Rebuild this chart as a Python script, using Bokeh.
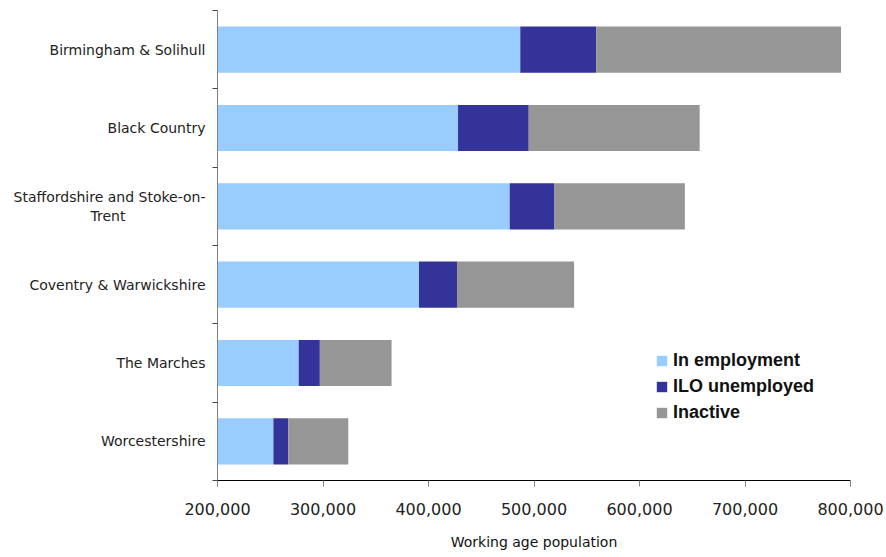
from bokeh.plotting import figure
from bokeh.models import (ColumnDataSource, Range1d, FixedTicker,
                          NumeralTickFormatter)
from bokeh.embed import file_html
from bokeh.resources import INLINE

# Working age population by LEP area (top to bottom as listed)
areas = [
    "Birmingham & Solihull",
    "Black Country",
    "Staffordshire and Stoke-on-\nTrent",
    "Coventry & Warwickshire",
    "The Marches",
    "Worcestershire",
]
in_employment = [487000, 428000, 477000, 391000, 277000, 253000]
ilo_unemployed = [72000, 67000, 42000, 36000, 20000, 14000]
inactive = [232000, 162000, 124000, 111000, 68000, 57000]

series = ["In employment", "ILO unemployed", "Inactive"]
colors = ["#99CCFF", "#333399", "#969696"]
x_ticks = [200000, 300000, 400000, 500000, 600000, 700000, 800000]

n = len(areas)
# first area sits at the top of the axis
ypos = [n - i - 0.5 for i in range(n)]


def centred_lines(label, char_w=0.34):
    """Pad the shorter lines of a right-aligned multi-line label with
    no-break spaces so that every line sits centred under the longest."""
    lines = label.split("\n")
    if len(lines) == 1:
        return label
    widths = {c: 0.62 for c in "abcdeghknopqsuvxyz"}
    widths.update({c: 0.28 for c in "fijlrt"})

    def w(s):
        return sum(widths.get(c, 0.68) for c in s)

    longest = max(w(s) for s in lines)
    out = []
    for s in lines:
        pad = int(round((longest - w(s)) / 2 / char_w))
        out.append(s + "\u00a0" * pad)
    return "\n".join(out)


src = ColumnDataSource(dict(
    y=ypos,
    emp=in_employment,
    unemp=ilo_unemployed,
    inact=inactive,
))

p = figure(
    width=886, height=557,
    x_range=Range1d(x_ticks[0], x_ticks[-1]),
    y_range=Range1d(0, n),
    output_backend="svg", toolbar_location=None,
    min_border_left=217, min_border_right=36,
    min_border_top=10, min_border_bottom=77,
)
p.outline_line_color = None
p.background_fill_color = "white"
p.border_fill_color = "white"
p.xgrid.visible = False
p.ygrid.visible = False

p.hbar_stack(["emp", "unemp", "inact"], y="y", height=0.59,
             color=colors, line_color=None, source=src,
             legend_label=series)

# x axis
xa = p.xaxis[0]
xa.ticker = FixedTicker(ticks=x_ticks)
xa.formatter = NumeralTickFormatter(format="0,0")
xa.axis_line_color = "black"
xa.major_tick_line_color = "#808080"
xa.major_tick_out = 6
xa.major_tick_in = 0
xa.minor_tick_line_color = None
xa.major_label_text_font = "DejaVu Sans"
xa.major_label_text_font_size = "16px"
xa.major_label_text_color = "#222222"
xa.major_label_standoff = 16
xa.axis_label = "Working age population"
xa.axis_label_text_font = "DejaVu Sans"
xa.axis_label_text_font_size = "14px"
xa.axis_label_text_font_style = "normal"
xa.axis_label_text_color = "#111111"
xa.axis_label_standoff = 16

# y axis: labels at bar centres, tick marks on category boundaries
ya = p.yaxis[0]
ya.ticker = FixedTicker(ticks=ypos, minor_ticks=list(range(n + 1)))
ya.major_label_overrides = {y: centred_lines(a) for y, a in zip(ypos, areas)}
ya.axis_line_color = "#808080"
ya.major_tick_line_color = None
ya.major_tick_out = 0
ya.major_tick_in = 0
ya.minor_tick_line_color = "#444444"
ya.minor_tick_out = 5
ya.minor_tick_in = 0
ya.major_label_text_font = "DejaVu Sans"
ya.major_label_text_font_size = "14px"
ya.major_label_text_color = "#222222"
ya.major_label_standoff = 7

lg = p.legend[0]
lg.location = (438, 57)
lg.border_line_color = None
lg.background_fill_alpha = 0
lg.padding = 0
lg.margin = 0
lg.spacing = 4
lg.glyph_width = 13
lg.glyph_height = 13
lg.label_height = 22
lg.label_standoff = 5
lg.label_text_font = "Liberation Sans"
lg.label_text_font_style = "bold"
lg.label_text_font_size = "18px"
lg.label_text_color = "#111111"

open("out.html", "w").write(file_html(p, INLINE))
